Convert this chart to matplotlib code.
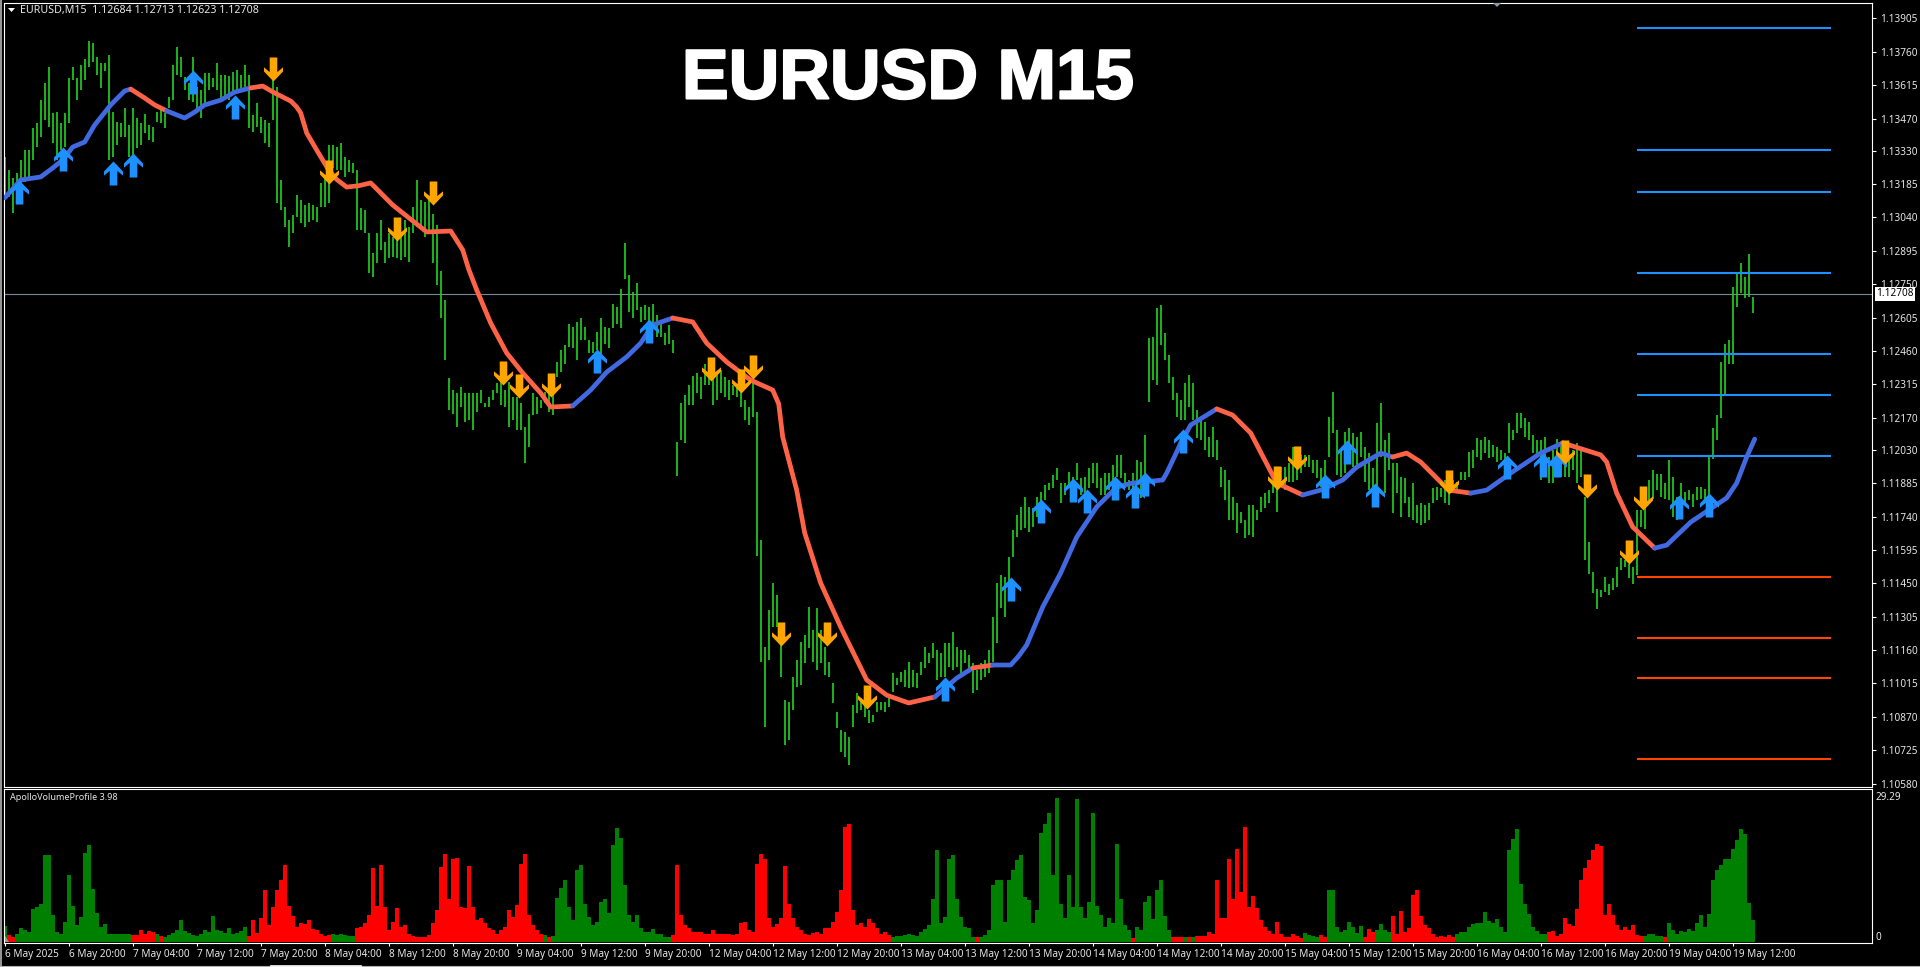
import numpy as np
import matplotlib
matplotlib.use('Agg')
import matplotlib.pyplot as plt
import matplotlib.patheffects as pe
from matplotlib.lines import Line2D
from matplotlib.path import Path
from matplotlib.patches import Polygon
from matplotlib.transforms import IdentityTransform

# prices are kept as points above 1.10000, one row = one 8h label interval, every second M15 bar
high_pts = [
    3304,3246,3210,3232,3290,3333,3333,3427,3449,3550,3623,3695,3492,3500,3449,3492,
    3644,3695,3644,3702,3727,3808,3797,3739,3710,3710,3746,3500,3456,3449,3514,3442,
    3514,3471,3449,3489,3442,3434,3500,3507,3492,3565,3702,3782,3739,3652,3623,3739,
    3608,3594,3666,3666,3644,3710,3659,3659,3655,3673,3681,3659,3702,3659,3485,3536,
    3478,3463,3449,3652,3608,3203,3087,3029,3050,3137,3116,3094,3101,3094,3087,3188,
    3217,3355,3355,3347,3362,3304,3290,3275,3246,3079,3072,2971,2884,2971,3029,2934,
    2971,2956,2949,2971,3029,3000,3087,3203,3116,3108,3116,3055,3007,2807,2681,2342,
    2290,2275,2304,2275,2275,2275,2275,2292,2232,2261,2292,2319,2347,2290,2326,2261,
    2261,2232,2130,2188,2275,2261,2246,2282,2275,2290,2413,2463,2485,2579,2565,2587,
    2601,2565,2507,2500,2543,2605,2565,2558,2666,2652,2731,2927,2789,2717,2753,2652,
    2659,2649,2663,2615,2579,2536,2572,2507,2065,2232,2268,2311,2350,2362,2347,2405,
    2405,2391,2369,2376,2347,2333,2311,2311,2347,2246,2217,2326,2194,1638,1175,1334,
    1450,1399,1182,943,936,1044,1117,1196,1225,1348,1247,1341,1247,1175,1109,1015,
    892,812,805,783,921,972,950,921,899,878,936,936,936,957,1059,1037,
    1066,1073,1109,1073,1059,1109,1175,1146,1189,1160,1146,1189,1189,1240,1175,1160,
    1160,1138,1102,1073,1102,1117,1160,1305,1450,1486,1479,1566,1682,1747,1783,1827,
    1783,1776,1827,1848,1877,1885,1921,1950,1885,1885,1935,1913,1974,1906,1913,1950,
    1972,1974,1906,1928,1928,1964,2008,2008,1928,1899,1928,1986,1979,2095,2515,2522,
    2645,2660,2537,2442,2348,2276,2247,2319,2356,2319,2203,2174,2153,2087,2131,2073,
    1957,1943,1899,1827,1798,1761,1725,1790,1790,1769,1827,1841,1856,1885,1870,1957,
    1957,1972,2044,2030,2008,2008,2008,1986,1986,1950,1986,2174,2280,2116,2030,2109,
    2124,2102,2087,2109,2044,2015,1950,2145,2232,2073,2102,1972,1972,1914,1906,1827,
    1884,1790,1798,1790,1798,1863,1870,1863,1899,1884,1899,1892,1935,1935,2022,2030,
    2080,2073,2087,2073,2051,2044,2030,2015,2145,2116,2189,2189,2167,2153,2095,2073,
    2072,2087,2000,2029,2079,2058,2029,1985,2029,2058,2029,1826,1630,1500,1427,1420,
    1478,1449,1471,1521,1558,1550,1536,1521,1768,1768,1869,1898,1942,1927,1927,1884,
    1988,1913,1826,1884,1848,1855,1840,1869,1869,1862,2000,2123,2181,2413,2489,2507,
    2739,2797,2840,2782,2881,2695,
]
low_pts = [
    3137,3130,3058,3123,3174,3195,3217,3290,3347,3391,3463,3434,3362,3290,3333,3347,
    3449,3637,3550,3594,3637,3695,3717,3659,3601,3678,3290,3304,3355,3391,3391,3304,
    3304,3340,3355,3405,3376,3369,3456,3449,3427,3514,3550,3659,3652,3594,3550,3543,
    3492,3471,3521,3594,3605,3594,3558,3558,3550,3572,3579,3601,3608,3427,3413,3434,
    3405,3362,3347,3463,3101,3072,3000,2913,2971,3043,3014,3000,3021,3029,3021,3087,
    3087,3101,3253,3246,3246,3217,3239,3232,2985,2985,2971,2797,2782,2840,2898,2840,
    2862,2869,2862,2855,2869,2848,2971,3000,3000,2956,2971,2842,2746,2603,2420,2203,
    2188,2130,2217,2152,2159,2118,2195,2232,2217,2217,2246,2275,2224,2217,2130,2159,
    2116,2116,1971,2043,2181,2188,2210,2232,2195,2181,2347,2369,2405,2478,2471,2420,
    2507,2507,2449,2449,2463,2442,2492,2471,2558,2579,2558,2771,2630,2601,2637,2587,
    2594,2572,2565,2521,2521,2485,2492,2449,1916,2072,2058,2224,2224,2275,2253,2311,
    2311,2224,2246,2275,2261,2246,2268,2261,2217,2159,2137,2174,1569,1109,824,1117,
    1262,1262,1044,747,769,899,1001,1008,1102,1167,1109,1073,1102,1051,1044,928,
    820,718,696,660,827,885,899,870,841,849,892,899,892,914,979,1008,
    1022,1001,993,998,993,1051,1080,1102,1124,1030,1044,1044,1088,1073,1088,1059,
    1102,1059,972,986,1030,1044,1059,1109,1189,1341,1305,1377,1566,1653,1682,1689,
    1675,1696,1740,1776,1812,1856,1863,1899,1798,1834,1870,1827,1899,1834,1841,1863,
    1885,1863,1834,1834,1856,1863,1914,1906,1863,1856,1856,1877,1819,1914,2240,2334,
    2312,2486,2421,2319,2247,2174,2160,2160,2218,2160,2080,2073,2030,2000,2000,1986,
    1870,1812,1725,1725,1667,1711,1645,1660,1653,1725,1761,1776,1798,1841,1761,1899,
    1856,1892,1892,1899,1928,1957,1957,1928,1906,1870,1856,2000,2102,1921,1914,1928,
    2030,1957,1964,2000,1892,1856,1856,1870,2000,1841,1943,1754,1841,1739,1798,1739,
    1725,1711,1703,1711,1725,1798,1812,1827,1798,1790,1856,1856,1899,1899,1914,1950,
    2000,1986,2015,1993,2000,1979,1986,1964,2015,2073,2102,2124,2087,2073,2015,2008,
    1898,1956,1884,1884,1956,1913,1913,1913,1942,1884,1913,1550,1492,1406,1340,1391,
    1413,1398,1420,1435,1507,1521,1471,1449,1485,1695,1688,1811,1818,1855,1826,1818,
    1811,1739,1724,1782,1797,1811,1782,1811,1818,1797,1833,1992,2072,2170,2270,2405,
    2405,2652,2710,2688,2695,2623,
]

# moving average, read at its bends
ma_bar = [0,8,18,24,29,34,40,45,53,60,63,70,75,81,90,95,100,108,115,123,129,135,143,146,148,151,156,162,166,171,177,183,194,
          211,223,229,232,236,243,251,259,268,273,284,293,301,311,318,324,334,344,351,361,373,384,387,389,396,400,408,418,
          431,441,452,465,476,484,494,503,507,511,519,528,536,546,556,564,579,581,586,588,593,606,614,623,636,649,658,669,676,
          688,694,701,708,722,733,741,753,768,779,798,801,806,814,825,831,843,861,866,871,875]
ma_pts = [3125,3203,3216,3255,3290,3346,3368,3442,3529,3590,3598,3559,3529,3503,3472,3498,3529,3550,3585,3603,
          3611,3581,3546,3520,3494,3407,3333,3246,3205,3172,3178,3190,3094,2977,2981,2899,2815,2725,2581,2451,2364,2277,2216,2221,
          2290,2368,2434,2494,2573,2603,2586,2494,2412,2333,2290,2230,2086,1855,1669,1451,1260,1030,964,930,956,1038,
          1082,1095,1095,1134,1182,1347,1495,1651,1782,1868,1886,1899,1929,2021,2060,2138,2208,2181,2103,1886,1834,1855,1899,
          1955,2016,1999,2016,1977,1855,1842,1855,1929,2016,2060,2008,1977,1842,1695,1603,1616,1716,1821,1886,1999,2077]
ma_switch_bar = [63,81,123,284,334,465,484,494,606,649,694,733,779,825]

up_bar = [7,29,54,64,94,115,296,322,470,503,518,534,541,555,565,570,589,660,671,685,751,769,776,837,852]
up_pts = [3151,3294,3233,3268,3629,3520,2416,2546,990,1425,1764,1855,1808,1864,1829,1881,2068,1873,2021,1834,
          1955,1964,1964,1782,1790]
down_bar = [134,162,196,214,249,257,273,353,368,374,388,411,431,636,646,722,780,791,812,819]
down_pts = [3685,3237,2990,3146,2364,2307,2312,2381,2329,2390,1230,1230,956,1908,1995,1890,2021,1873,1586,1821]

resistance_pts = [3863,3333,3151,2799,2447,2268,2003]
support_pts = [1477,1212,1038,686]
level_start, level_end = 816, 913

price_ticks = ['1.13905','1.13760','1.13615','1.13470','1.13330','1.13185','1.13040','1.12895','1.12750','1.12605',
               '1.12460','1.12315','1.12170','1.12030','1.11885','1.11740','1.11595','1.11450','1.11305','1.11160',
               '1.11015','1.10870','1.10725','1.10580']
last_price = 1.12708

date_labels = ['6 May 2025','6 May 20:00','7 May 04:00','7 May 12:00','7 May 20:00','8 May 04:00','8 May 12:00',
               '8 May 20:00','9 May 04:00','9 May 12:00','9 May 20:00','12 May 04:00','12 May 12:00','12 May 20:00',
               '13 May 04:00','13 May 12:00','13 May 20:00','14 May 04:00','14 May 12:00','14 May 20:00','15 May 04:00',
               '15 May 12:00','15 May 20:00','16 May 04:00','16 May 12:00','16 May 20:00','19 May 04:00','19 May 12:00']

volume = [
    3.2,1.4,1.1,1.7,2.8,2.4,2.1,6.6,7.0,7.8,17.6,17.7,5.5,2.0,1.7,4.1,
    13.5,7.3,3.4,5.1,18.0,19.6,10.8,5.8,3.1,3.6,1.7,1.7,1.6,1.7,1.6,1.7,
    1.5,1.4,2.5,1.6,2.2,2.0,1.7,1.3,1.0,1.4,1.8,2.4,4.4,2.2,1.8,1.5,
    1.3,1.6,2.4,2.1,5.2,2.4,2.2,1.9,2.8,1.7,1.9,2.2,3.0,1.2,4.5,1.8,
    4.8,10.5,3.5,7.1,10.5,12.5,15.7,7.3,5.2,3.0,3.8,3.6,4.4,2.6,2.4,1.6,
    1.2,1.5,1.6,1.4,1.6,1.4,1.3,1.2,2.8,3.0,3.9,5.5,15.0,7.3,15.7,7.0,
    2.4,4.1,6.8,3.0,3.4,1.7,1.2,1.0,1.0,1.0,1.4,3.8,6.5,15.2,17.9,8.8,
    16.9,17.0,7.1,6.8,15.5,7.1,4.4,4.8,3.8,2.8,2.4,1.6,2.4,3.1,6.5,5.1,
    7.5,15.9,17.9,5.5,3.4,2.4,1.7,1.4,1.0,1.2,9.0,11.0,12.5,7.0,4.5,14.5,
    15.7,7.8,5.0,3.4,4.0,8.1,8.8,5.8,19.6,23.0,21.0,11.5,5.5,4.1,5.5,2.8,
    2.1,2.1,2.6,1.7,1.6,1.1,1.1,1.4,15.7,5.5,3.4,2.8,2.1,2.1,2.1,1.7,
    1.7,2.4,1.7,1.7,1.7,1.7,1.4,1.6,3.8,4.0,2.4,2.1,15.9,17.9,16.9,4.8,
    3.0,3.6,4.8,15.5,7.8,4.8,3.0,2.4,1.7,1.4,1.9,2.1,1.7,2.8,2.8,4.1,
    6.1,10.5,23.3,24.0,6.5,3.4,3.8,3.1,4.6,3.9,2.8,1.7,2.1,1.4,1.1,1.2,
    1.2,1.4,1.7,1.4,1.2,2.1,2.6,3.4,8.8,18.7,3.8,5.1,16.9,17.6,8.8,5.1,
    3.1,2.8,1.1,1.1,1.1,1.4,2.4,11.5,12.5,12.5,4.1,12.5,14.5,16.7,17.6,9.2,
    8.5,3.8,6.5,22.0,24.0,26.2,13.5,29.2,7.8,4.8,13.5,7.1,28.9,7.1,4.8,8.1,
    26.2,7.3,5.5,3.1,4.8,3.8,19.9,8.8,3.4,2.4,0.9,3.0,2.4,8.1,9.3,4.6,
    10.5,12.5,5.2,2.4,1.1,1.0,1.1,1.1,1.0,1.0,1.3,1.3,1.2,2.1,1.7,12.5,
    4.8,4.8,16.9,8.8,18.9,10.2,23.2,7.1,9.4,6.8,4.4,3.0,2.3,1.7,4.0,1.7,
    1.1,1.1,1.6,1.3,0.9,1.9,1.4,1.3,1.1,1.4,1.1,10.5,10.5,3.1,2.1,2.4,
    4.1,3.1,1.9,3.2,1.1,2.6,2.1,2.4,3.6,2.4,2.0,5.2,1.6,6.3,2.1,2.8,
    9.5,10.5,5.2,3.4,2.8,1.7,1.1,1.3,1.1,1.4,1.1,1.6,2.0,2.1,3.0,3.6,
    3.9,3.8,6.1,4.3,3.9,4.6,3.1,2.1,18.7,20.9,22.9,11.8,7.7,5.7,3.1,2.2,
    1.6,1.7,2.0,2.2,1.3,1.7,4.8,3.6,3.2,6.6,12.5,14.9,16.6,18.6,19.9,19.5,
    5.5,7.6,5.5,3.4,2.4,3.1,2.4,3.4,1.4,1.3,1.3,1.6,1.7,1.3,1.3,1.1,
    3.8,2.4,1.7,2.2,2.1,2.6,2.2,3.8,5.5,3.1,5.7,12.5,14.5,15.7,16.8,16.8,
    18.8,20.7,22.9,21.9,8.0,4.4,
]
# bar index where the volume colour changes, first run is green
vol_switch_bar = [2,6,63,76,78,80,121,163,176,270,272,274,333,444,486,488,564,566,584,590,592,594,596,649,658,661,
                  680,686,694,725,771,820,830,832]

C_UP, C_DOWN = '#4169E1', '#FF6347'
GREEN_BAR = '#1fd41f'
TXT = '#e6e6e6'
FONT = 'Noto Sans'
W, H = 1920, 967

plt.rcParams['font.family'] = FONT
fig = plt.figure(figsize=(W/100, H/100), dpi=100, facecolor='black')


def px_axes(x0, y0, x1, y1):
    return fig.add_axes([x0/W, 1 - y1/H, (x1-x0)/W, (y1-y0)/H], facecolor='black')


ax = px_axes(4, 3, 1872, 786.5)
ax2 = px_axes(4, 788.5, 1872, 943)
for a in (ax, ax2):
    for s in a.spines.values():
        s.set_color('white')
        s.set_linewidth(0.8)
    a.set_xlim(-0.35, 933.65)

high = 1.1 + np.array(high_pts) / 1e5
low = 1.1 + np.array(low_pts) / 1e5
bars = 2 * np.arange(len(high))
ax.vlines(bars, low, high, color=GREEN_BAR, lw=1.2, zorder=2)

ax.axhline(last_price, color='#778899', lw=0.8, zorder=1)

# moving average, coloured by run
ma_x = np.array(ma_bar)
ma_y = 1.1 + np.array(ma_pts) / 1e5
edges = [0] + ma_switch_bar + [ma_bar[-1]]
for k in range(len(edges) - 1):
    m = (ma_x >= edges[k]) & (ma_x <= edges[k+1])
    ax.plot(ma_x[m], ma_y[m], color=C_UP if k % 2 == 0 else C_DOWN, lw=3.4,
            solid_capstyle='round', solid_joinstyle='round', zorder=3)

for lv in resistance_pts:
    ax.hlines(1.1 + lv/1e5, level_start, level_end, color='#1E90FF', lw=1.5, zorder=2)
for lv in support_pts:
    ax.hlines(1.1 + lv/1e5, level_start, level_end, color='#FF4500', lw=1.5, zorder=2)

# signal arrows
up_path = Path([(0, 12), (9.5, 2), (9.5, -2.2), (3.8, 2.6), (3.8, -12), (-3.8, -12),
                (-3.8, 2.6), (-9.5, -2.2), (-9.5, 2), (0, 12)], closed=True)
down_path = Path([(x, -y) for x, y in up_path.vertices], closed=True)
ax.plot(up_bar, 1.1 + np.array(up_pts)/1e5, ls='none', marker=up_path, ms=17.3,
        mfc='#1E90FF', mec='none', zorder=4)
ax.plot(down_bar, 1.1 + np.array(down_pts)/1e5, ls='none', marker=down_path, ms=17.3,
        mfc='#FFA500', mec='none', zorder=4)

ax.set_ylim(1.10567, 1.13972)
ax.yaxis.tick_right()
ax.set_yticks([float(t) for t in price_ticks])
ax.set_yticklabels(price_ticks, fontsize=7.2, color=TXT)
ax.tick_params(axis='y', length=3, width=0.8, color='white', pad=2.5)
ax.set_xticks([])

ax.text(1.0022, last_price, '1.12708', transform=ax.get_yaxis_transform(), fontsize=7.2, color='black',
        va='center', ha='left', zorder=6,
        bbox=dict(boxstyle='square,pad=0.15', fc='white', ec='none'))

fig.text(908/W, 1 - 98.5/H, 'EURUSD M15', color='white', fontsize=50.5, fontweight='bold',
         family='Liberation Sans', ha='center', va='baseline',
         path_effects=[pe.withStroke(linewidth=1.5, foreground='white')])
fig.text(20/W, 1 - 10.5/H, 'EURUSD,M15  1.12684 1.12713 1.12623 1.12708', color=TXT, fontsize=7.7,
         ha='left', va='center')
fig.text(9.5/W, 1 - 798/H, 'ApolloVolumeProfile 3.98', color=TXT, fontsize=6.5, ha='left', va='center')

# volume panel
vol_bar = 2 * np.arange(len(volume))
vol_colors = []
for b in vol_bar:
    n = sum(1 for s in vol_switch_bar if s <= b)
    vol_colors.append('#008000' if n % 2 == 0 else '#FF0000')
ax2.bar(vol_bar, volume, width=2.0, color=vol_colors, linewidth=0, zorder=2)
ax2.set_ylim(-0.2, 31.1)
ax2.yaxis.tick_right()
ax2.set_yticks([])
ax2.text(1.002, 29.29, '29.29', transform=ax2.get_yaxis_transform(), fontsize=7.2, color=TXT, va='center')
ax2.text(1.002, 1.0, '0', transform=ax2.get_yaxis_transform(), fontsize=7.2, color=TXT, va='center')

ax2.set_xticks(32 * np.arange(len(date_labels)))
ax2.set_xticklabels(date_labels, fontsize=7.2, color=TXT, ha='left')
ax2.tick_params(axis='x', length=2.5, width=0.8, color='white', pad=1.5)

# window furniture
id_tf = IdentityTransform()
fig.add_artist(Polygon([(8, H-8), (15, H-8), (11.5, H-12)], closed=True, fc='white', ec='none', transform=id_tf))
fig.add_artist(Polygon([(1493, H-3), (1501, H-3), (1497, H-7)], closed=True, fc='#8899aa', ec='none', transform=id_tf))
fig.add_artist(Polygon([(5, H-942), (9, H-942), (5, H-936)], closed=True, fc='#999999', ec='none', transform=id_tf))
fig.add_artist(Line2D([0.5/W, 0.5/W], [0, 1], color='#9a9a9a', lw=1.4))
fig.add_artist(Line2D([0, 1], [1.2/H, 1.2/H], color='#b0b0b0', lw=0.8))
fig.add_artist(Line2D([271/W, 361/W], [1.2/H, 1.2/H], color='white', lw=1.2))

fig.savefig('out.png', dpi=100, facecolor='black')
